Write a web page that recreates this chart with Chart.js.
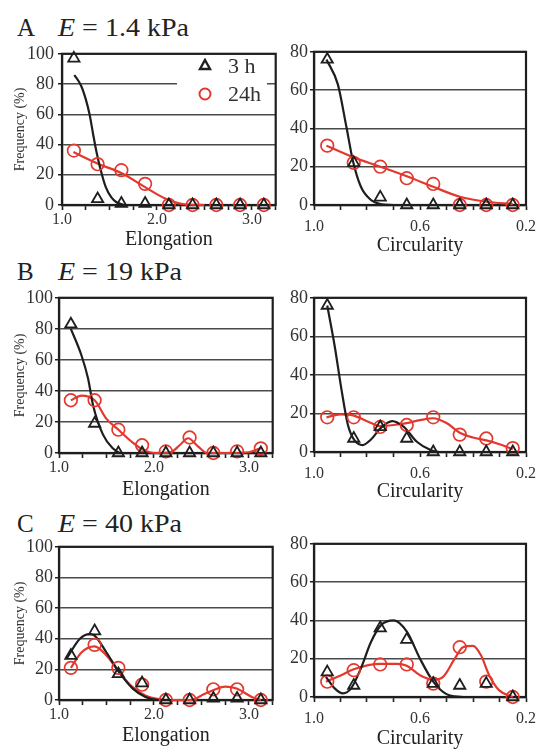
<!DOCTYPE html>
<html><head><meta charset="utf-8">
<script src="https://cdn.jsdelivr.net/npm/chart.js@4.4.1/dist/chart.umd.min.js"></script>
<style>
body{margin:0;background:#fff;width:536px;height:749px;overflow:hidden;position:relative;font-family:"Liberation Serif","Times New Roman",serif;}
canvas{position:absolute;}
.ttl{position:absolute;left:0;top:0;font-size:25px;line-height:1;color:#222;white-space:pre;}
.ttl .lt{position:absolute;left:17px;top:0;}
.ttl .ex{position:absolute;left:58px;top:0;transform:scaleX(1.12);transform-origin:left top;}
#legend{position:absolute;left:177px;top:58px;width:90px;height:48px;background:#fff;}
#legend span{position:absolute;left:51px;font-size:22px;line-height:1;color:#333;}
</style></head>
<body>
<div class="ttl" style="top:15px"><span class="lt">A</span><span class="ex"><i>E</i> = 1.4 kPa</span></div>
<div class="ttl" style="top:259px"><span class="lt">B</span><span class="ex"><i>E</i> = 19 kPa</span></div>
<div class="ttl" style="top:511px"><span class="lt">C</span><span class="ex"><i>E</i> = 40 kPa</span></div>
<canvas id="aL"></canvas><canvas id="aR"></canvas>
<canvas id="bL"></canvas><canvas id="bR"></canvas>
<canvas id="cL"></canvas><canvas id="cR"></canvas>
<div id="legend">
<svg width="90" height="48" style="position:absolute;left:0;top:0">
<polygon points="28,2 33,11 23,11" fill="none" stroke="#1e1e1e" stroke-width="2.4" stroke-linejoin="miter"/>
<circle cx="28" cy="36" r="5.5" fill="none" stroke="#e3382e" stroke-width="2"/>
</svg>
<span style="top:-3px">3 h</span>
<span style="top:25px">24h</span>
</div>
<script>
// ---- categories / bins ----
const elongBins = [1.125, 1.375, 1.625, 1.875, 2.125, 2.375, 2.625, 2.875, 3.125];
const circBins  = [0.95, 0.85, 0.75, 0.65, 0.55, 0.45, 0.35, 0.25];
const elongTickLabels = ['1.0', '2.0', '3.0'];
const circTickLabels  = ['1.0', '0.6', '0.2'];
const seriesNames = ['3 h', '24h'];

// ---- measured frequencies (%) ----
const aElong3h  = [97, 4, 1, 1, 0, 0, 0, 0, 0];
const aElong24h = [36, 27, 23, 14, 0, 0, 0, 0, 0];
const aCirc3h   = [76, 22, 4, 0, 0, 0, 0, 0];
const aCirc24h  = [31, 22, 20, 14, 11, 0, 0, 0];
const bElong3h  = [83, 19, 0, 0, 0, 0, 0, 0, 0];
const bElong24h = [34, 34, 15, 5, 1, 10, 0, 1, 3];
const bCirc3h   = [76, 7, 13, 7, 0, 0, 0, 0];
const bCirc24h  = [18, 18, 13, 14, 18, 9, 7, 2];
const cElong3h  = [29, 45, 17, 11, 0, 0, 1, 1, 0];
const cElong24h = [21, 36, 21, 10, 0, 0, 7, 7, 0];
const cCirc3h   = [13, 6, 36, 30, 7, 6, 7, 0];
const cCirc24h  = [8, 14, 17, 17, 7, 26, 8, 0];

// ---- fitted curves ----
const aElFit3hX  = [1.13, 1.2, 1.25, 1.29, 1.33, 1.36, 1.4, 1.46, 1.52, 1.57, 1.65];
const aElFit3hY  = [86, 79, 70, 60, 46, 36, 25, 12, 5, 2, 0];
const aElFit24hX = [1.12, 1.39, 1.63, 1.87, 2.08, 2.29, 2.5];
const aElFit24hY = [35, 27, 21, 12, 4.5, 0.5, 0];
const aCiFit3hX  = [0.953, 0.91, 0.878, 0.853, 0.823, 0.785, 0.75, 0.7];
const aCiFit3hY  = [76, 63, 41, 23, 9.5, 2.6, 0.5, 0];
const aCiFit24hX = [0.953, 0.853, 0.75, 0.65, 0.55, 0.45, 0.35, 0.25];
const aCiFit24hY = [31, 25, 20, 15, 9.5, 4.3, 1.7, 0.5];

const bElFit3hX  = [1.125, 1.236, 1.306, 1.358, 1.462, 1.566, 1.64];
const bElFit3hY  = [80, 63, 48, 31, 12, 3, 0];
const bElFit24hX = [1.125, 1.236, 1.375, 1.5, 1.635, 1.77, 1.875, 2.01, 2.18, 2.27, 2.36, 2.46, 2.56, 2.8, 3.0, 3.12];
const bElFit24hY = [34, 37, 34, 22, 14.5, 7, 2.5, 0, 0.6, 5, 9.5, 4.5, 0, 0, 0.5, 3];
const bCiFit3hX  = [0.95, 0.922, 0.897, 0.872, 0.847, 0.816, 0.785, 0.748, 0.705, 0.661, 0.612, 0.56, 0.53];
const bCiFit3hY  = [76, 55, 33, 14, 6, 3.6, 6.5, 12.5, 16, 13, 5.3, 1, 0];
const bCiFit24hX = [0.953, 0.9, 0.853, 0.8, 0.75, 0.7, 0.65, 0.6, 0.55, 0.5, 0.45, 0.4, 0.35, 0.3, 0.25];
const bCiFit24hY = [18, 19.5, 19, 16, 13.5, 14, 15, 16.5, 17.5, 15, 10, 7.5, 6, 4, 1.5];

const cElFit3hX  = [1.08, 1.22, 1.323, 1.375, 1.5, 1.635, 1.774, 1.91, 2.05, 2.2];
const cElFit3hY  = [27, 40, 43, 42, 31, 18, 7.6, 2, 0, 0];
const cElFit24hX = [1.125, 1.236, 1.375, 1.5, 1.635, 1.77, 1.91, 2.05, 2.18, 2.4, 2.5, 2.63, 2.75, 2.87, 3.03, 3.125];
const cElFit24hY = [21, 31, 35, 29, 18, 8.7, 3, 0.6, 0, 0, 3, 6.5, 8.7, 7.5, 2, 0];
const cCiFit3hX  = [0.955, 0.922, 0.891, 0.86, 0.823, 0.785, 0.748, 0.699, 0.649, 0.6, 0.55, 0.5, 0.438];
const cCiFit3hY  = [10.5, 4.5, 1.9, 4.5, 15, 28.7, 37.4, 40, 34, 20, 8, 1.5, 0];
const cCiFit24hX = [0.955, 0.897, 0.85, 0.75, 0.686, 0.65, 0.6, 0.55, 0.513, 0.469, 0.438, 0.4, 0.37, 0.339, 0.302, 0.25];
const cCiFit24hY = [8, 11.4, 14.5, 17.3, 17.3, 16.3, 11.4, 9, 10.5, 20, 26, 26.7, 21.8, 11.4, 3.6, 0];

const FONT = '"Liberation Serif","Times New Roman",serif';
const RED = '#e3382e';
const BLK = '#1e1e1e';

function pts(xs, ys) { return xs.map((x, i) => ({ x: x, y: ys[i] })); }

const framePlugin = {
  id: 'frame',
  beforeDatasetsDraw(chart) {
    const { ctx, chartArea: { left, top, right, bottom } } = chart;
    ctx.save();
    ctx.strokeStyle = BLK; ctx.lineWidth = 2.2;
    ctx.strokeRect(left, top, right - left, bottom - top);
    ctx.restore();
  }
};

function panel(id, s) {
  const cv = document.getElementById(id);
  const padTop = 12;
  const cy = s.box.t - padTop;
  const W = s.box.r + s.padRight - s.cx, H = s.xBottom - cy;
  cv.style.left = s.cx + 'px'; cv.style.top = cy + 'px';
  cv.width = W; cv.height = H;
  const yw = s.box.l - s.cx, xh = s.xBottom - s.box.b;
  const isC = s.kind === 'circ';
  const labels = isC ? circTickLabels : elongTickLabels;
  new Chart(cv, {
    type: 'scatter',
    data: { datasets: [
      { label: seriesNames[0], data: pts(s.bins, s.d3), pointStyle: 'triangle', pointRadius: 6.5,
        borderColor: BLK, backgroundColor: 'rgba(0,0,0,0)', borderWidth: 1.8, clip: false },
      { label: seriesNames[1], data: pts(s.bins, s.d24), pointStyle: 'circle', pointRadius: 6.3,
        borderColor: RED, backgroundColor: 'rgba(0,0,0,0)', borderWidth: 1.7, clip: false },
      { data: pts(s.f3x, s.f3y), showLine: true, pointRadius: 0, borderColor: BLK, borderWidth: 2.2,
        cubicInterpolationMode: 'monotone', clip: false },
      { data: pts(s.f24x, s.f24y), showLine: true, pointRadius: 0, borderColor: RED, borderWidth: 2.2,
        cubicInterpolationMode: 'monotone', clip: false }
    ] },
    options: {
      responsive: false, animation: false, events: [],
      layout: { padding: { top: padTop, right: s.padRight, left: 0, bottom: 0 } },
      plugins: { legend: { display: false }, tooltip: { enabled: false } },
      scales: {
        x: {
          type: 'linear', min: isC ? 0.2 : 1.0, max: isC ? 1.0 : 3.25, reverse: isC,
          afterFit: sc => { sc.height = xh; },
          grid: { drawOnChartArea: false, drawTicks: true, tickLength: 5, tickColor: BLK, tickWidth: 1.6 },
          border: { display: true, color: BLK, width: 2.2 },
          ticks: {
            autoSkip: false, maxRotation: 0, stepSize: isC ? 0.1 : 0.25, padding: isC ? 7 : 0,
            font: { family: FONT, size: 16 }, color: '#333',
            callback: v => { const l = labels.find(t => Math.abs(parseFloat(t) - v) < 1e-6); return l === undefined ? '' : l; }
          },
          title: { display: true, text: isC ? 'Circularity' : 'Elongation', font: { family: FONT, size: 20 }, color: '#222', padding: 0 }
        },
        y: {
          min: 0, max: s.yMax,
          afterFit: sc => { sc.width = yw; },
          grid: { color: '#4a4a4a', lineWidth: 1.5, drawTicks: true, tickLength: 4, tickColor: BLK },
          border: { display: true, color: BLK, width: 2.2 },
          ticks: { stepSize: 20, padding: s.yPad, font: { family: FONT, size: 18 }, color: '#333' },
          title: s.yTitle ? { display: true, text: 'Frequency (%)', font: { family: FONT, size: 14 }, color: '#333', padding: { top: 12 } } : { display: false }
        }
      }
    },
    plugins: [framePlugin]
  });
}

panel('aL', { kind: 'elong', cx: 0, box: { l: 62, r: 278, t: 51, b: 205 }, padRight: 6, xBottom: 252, yMax: 100, yPad: 4, yTitle: true,
  bins: elongBins, d3: aElong3h, d24: aElong24h, f3x: aElFit3hX, f3y: aElFit3hY, f24x: aElFit24hX, f24y: aElFit24hY });
panel('aR', { kind: 'circ', cx: 282, box: { l: 314, r: 529, t: 51, b: 205 }, padRight: 14, xBottom: 258, yMax: 80, yPad: 2, yTitle: false,
  bins: circBins, d3: aCirc3h, d24: aCirc24h, f3x: aCiFit3hX, f3y: aCiFit3hY, f24x: aCiFit24hX, f24y: aCiFit24hY });
panel('bL', { kind: 'elong', cx: 0, box: { l: 59, r: 275, t: 297, b: 453 }, padRight: 6, xBottom: 502, yMax: 100, yPad: 2, yTitle: true,
  bins: elongBins, d3: bElong3h, d24: bElong24h, f3x: bElFit3hX, f3y: bElFit3hY, f24x: bElFit24hX, f24y: bElFit24hY });
panel('bR', { kind: 'circ', cx: 282, box: { l: 314, r: 529, t: 297, b: 452 }, padRight: 14, xBottom: 504, yMax: 80, yPad: 2, yTitle: false,
  bins: circBins, d3: bCirc3h, d24: bCirc24h, f3x: bCiFit3hX, f3y: bCiFit3hY, f24x: bCiFit24hX, f24y: bCiFit24hY });
panel('cL', { kind: 'elong', cx: 0, box: { l: 59, r: 275, t: 546, b: 700 }, padRight: 6, xBottom: 748, yMax: 100, yPad: 2, yTitle: true,
  bins: elongBins, d3: cElong3h, d24: cElong24h, f3x: cElFit3hX, f3y: cElFit3hY, f24x: cElFit24hX, f24y: cElFit24hY });
panel('cR', { kind: 'circ', cx: 282, box: { l: 314, r: 529, t: 543, b: 697 }, padRight: 14, xBottom: 751, yMax: 80, yPad: 2, yTitle: false,
  bins: circBins, d3: cCirc3h, d24: cCirc24h, f3x: cCiFit3hX, f3y: cCiFit3hY, f24x: cCiFit24hX, f24y: cCiFit24hY });
</script>
</body></html>
